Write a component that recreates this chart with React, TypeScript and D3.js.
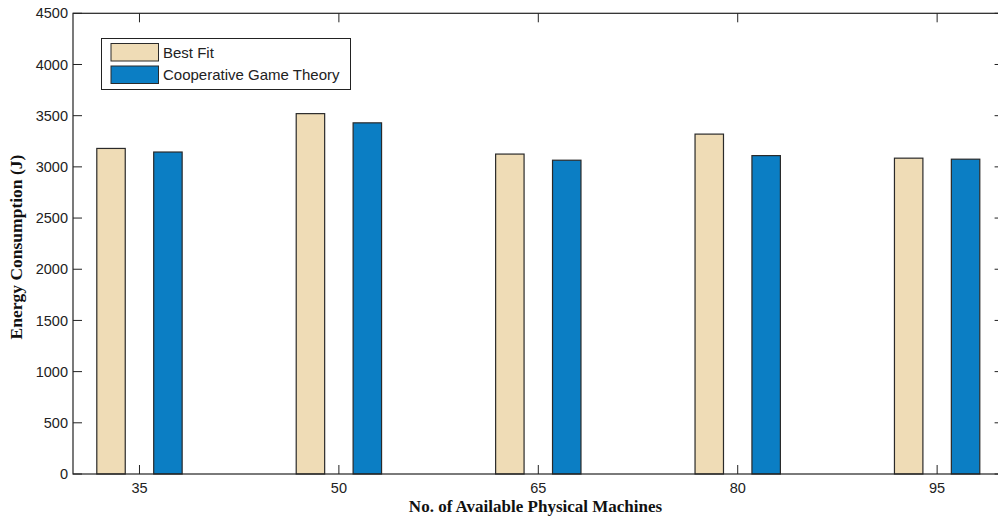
import React from "react";
import * as d3 from "d3";

const categories = [35, 50, 65, 80, 95];
const bestFit = [3180, 3520, 3125, 3320, 3085];
const cooperative = [3145, 3430, 3065, 3110, 3075];
const yTicks = [0, 500, 1000, 1500, 2000, 2500, 3000, 3500, 4000, 4500];
const seriesNames = ["Best Fit", "Cooperative Game Theory"];
const seriesColors = ["#efdcb6", "#0b7ec4"];

export default function App() {
  const W = 998, H = 520;
  const left = 73, right = 1003.6, top = 13.3, bottom = 474;
  const x = d3.scaleLinear().domain([30, 100]).range([left, right]);
  const y = d3.scaleLinear().domain([0, 4500]).range([bottom, top]);
  const barW = 2.14; // in x units
  const tickLen = 9;
  const font = "Liberation Sans, Arial, sans-serif";
  const serif = "Liberation Serif, Times New Roman, serif";
  const series = [bestFit, cooperative];
  const offsets = [-barW, barW];

  return (
    <svg width={W} height={H} style={{ position: "absolute", left: 0, top: 0, background: "#fff" }}>
      <rect x={0} y={0} width={W} height={H} fill="#fff" />
      {series.map((vals, si) =>
        vals.map((v, i) => {
          const cx = categories[i] + offsets[si];
          const x0 = x(cx - barW / 2);
          const x1 = x(cx + barW / 2);
          return (
            <rect key={`${si}-${i}`} x={x0} y={y(v)} width={x1 - x0} height={y(0) - y(v)}
              fill={seriesColors[si]} stroke="#2a2a2a" strokeWidth={1.2} />
          );
        })
      )}
      <rect x={left} y={top} width={right - left} height={bottom - top} fill="none" stroke="#222" strokeWidth={1.2} />
      {yTicks.map((t) => (
        <g key={t}>
          <line x1={left} x2={left + tickLen} y1={y(t)} y2={y(t)} stroke="#222" />
          <line x1={right} x2={right - tickLen} y1={y(t)} y2={y(t)} stroke="#222" />
          <text x={left - 5} y={y(t)} dy="0.35em" textAnchor="end" fontFamily={font} fontSize={14.5} fill="#222">{t}</text>
        </g>
      ))}
      {categories.map((c) => (
        <g key={c}>
          <line x1={x(c)} x2={x(c)} y1={bottom} y2={bottom - tickLen} stroke="#222" />
          <line x1={x(c)} x2={x(c)} y1={top} y2={top + tickLen} stroke="#222" />
          <text x={x(c)} y={bottom + 19} textAnchor="middle" fontFamily={font} fontSize={14.5} fill="#222">{c}</text>
        </g>
      ))}
      <text transform={`translate(22,247) rotate(-90)`} textAnchor="middle"
        fontFamily={serif} fontWeight="bold" fontSize={17.5} fill="#111">
        Energy Consumption (J)
      </text>
      <text x={535.5} y={511.5} textAnchor="middle"
        fontFamily={serif} fontWeight="bold" fontSize={17} fill="#111">
        No. of Available Physical Machines
      </text>
      <rect x={101.5} y={38.5} width={249} height={51} fill="#fff" stroke="#222" strokeWidth={1} />
      {seriesNames.map((n, i) => (
        <g key={n}>
          <rect x={111} y={43.5 + i * 22.5} width={47.5} height={17.5} fill={seriesColors[i]} stroke="#2a2a2a" strokeWidth={1} />
          <text x={163} y={52.5 + i * 22.5} dy="0.35em" fontFamily={font} fontSize={15} fill="#222">{n}</text>
        </g>
      ))}
    </svg>
  );
}
